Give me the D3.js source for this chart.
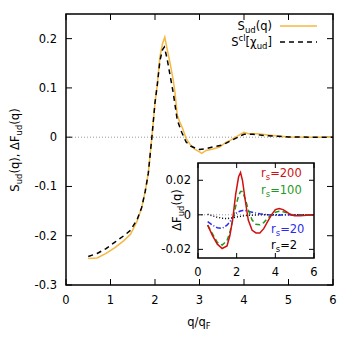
<!DOCTYPE html>
<html>
<head>
<meta charset="utf-8">
<script src="https://cdn.jsdelivr.net/npm/d3@7"></script>
<style>
  body { margin: 0; background: #fff; }
  svg { font-family: "DejaVu Sans", sans-serif; }
</style>
</head>
<body>
<div id="viz"></div>
<script>
// main panel: S_ud(q) and classical estimate
const qMain = [0.5, 0.7, 0.9, 1.1, 1.3, 1.45, 1.6, 1.7, 1.78, 1.85, 1.93, 2.0, 2.05, 2.11, 2.17, 2.22, 2.27, 2.34, 2.41, 2.45, 2.5, 2.56, 2.62, 2.7, 2.8, 2.9, 3.0, 3.05, 3.15, 3.3, 3.45, 3.6, 3.7, 3.85, 4.0, 4.1, 4.3, 4.6, 5.0, 5.5, 6.0];
const sud = [-0.246, -0.245, -0.236, -0.224, -0.21, -0.197, -0.17, -0.143, -0.11, -0.073, 0.0, 0.07, 0.105, 0.163, 0.19, 0.203, 0.18, 0.15, 0.116, 0.09, 0.045, 0.03, 0.018, -0.003, -0.016, -0.025, -0.03, -0.033, -0.027, -0.024, -0.02, -0.01, -0.006, 0.002, 0.01, 0.007, 0.007, 0.004, 0.0005, 0.0, 0.0];
const qCl = [0.5, 0.7, 0.9, 1.1, 1.3, 1.45, 1.6, 1.7, 1.78, 1.85, 1.93, 2.0, 2.05, 2.11, 2.17, 2.21, 2.27, 2.34, 2.41, 2.5, 2.6, 2.7, 2.8, 2.9, 3.0, 3.1, 3.3, 3.5, 3.6, 3.8, 4.0, 4.2, 4.5, 5.0, 5.5, 6.0];
const scl = [-0.242, -0.236, -0.226, -0.213, -0.2, -0.189, -0.167, -0.143, -0.11, -0.073, 0.0, 0.07, 0.105, 0.155, 0.178, 0.183, 0.16, 0.125, 0.09, 0.035, 0.01, -0.01, -0.018, -0.022, -0.025, -0.024, -0.02, -0.016, -0.012, -0.003, 0.006, 0.006, 0.003, 0.0005, 0.0, 0.0];

// inset: Delta F_ud(q) for several r_s
const qInset = [0.5, 0.75, 1.0, 1.25, 1.5, 1.65, 1.8, 1.95, 2.1, 2.2, 2.3, 2.45, 2.6, 2.8, 3.0, 3.2, 3.4, 3.6, 3.8, 4.0, 4.2, 4.4, 4.6, 4.8, 5.0, 5.3, 5.6, 6.0];
const dF200 = [-0.006, -0.012, -0.017, -0.0195, -0.018, -0.012, -0.002, 0.012, 0.022, 0.0245, 0.02, 0.008, -0.003, -0.009, -0.0105, -0.0105, -0.008, -0.004, 0.0, 0.003, 0.0037, 0.003, 0.0015, 0.0, -0.0005, -0.0006, -0.0003, 0.0];
const dF100 = [-0.006, -0.011, -0.016, -0.0175, -0.015, -0.01, -0.003, 0.005, 0.011, 0.0135, 0.0135, 0.009, 0.003, -0.003, -0.0055, -0.0058, -0.0045, -0.002, 0.0, 0.0015, 0.002, 0.0018, 0.0012, 0.0003, -0.0002, -0.0002, 0.0, 0.0];
const dF20 = [-0.004, -0.006, -0.0075, -0.0078, -0.006, -0.004, -0.0015, 0.0008, 0.0018, 0.0022, 0.0025, 0.0025, 0.002, 0.0015, 0.001, 0.0006, 0.0003, 0.0, -0.0002, -0.0003, -0.0002, 0.0, 0.0, 0.0, 0.0, 0.0, 0.0, 0.0];
const dF2 = [0.0003, -0.0006, -0.0014, -0.002, -0.0022, -0.002, -0.0017, -0.0014, -0.0011, -0.0009, -0.0007, -0.0005, -0.0003, -0.0002, -0.0001, 0.0, 0.0, 0.0, 0.0, 0.0, 0.0, 0.0, 0.0, 0.0, 0.0, 0.0, 0.0, 0.0];

const xTicks = [0, 1, 2, 3, 4, 5, 6];
const yTicks = [-0.3, -0.2, -0.1, 0, 0.1, 0.2];
const insetXTicks = [0, 2, 4, 6];
const insetYTicks = [-0.02, 0, 0.02];

const W = 356, H = 345;
const svg = d3.select('#viz').append('svg').attr('width', W).attr('height', H);

const m = { left: 66, right: 333, top: 14, bottom: 285 };
const x = d3.scaleLinear().domain([0, 6]).range([m.left, m.right]);
const y = d3.scaleLinear().domain([-0.3, 0.25]).range([m.bottom, m.top]);

const fmt = (d) => (d === 0 ? '0' : String(d));

// zero line
svg.append('line')
    .attr('x1', x(0)).attr('x2', x(6))
    .attr('y1', y(0)).attr('y2', y(0))
    .attr('stroke', '#999').attr('stroke-width', 1).attr('stroke-dasharray', '1,2');

// ticks (inward, mirrored)
const tk = svg.append('g');
xTicks.forEach((t) => {
    tk.append('line').attr('x1', x(t)).attr('x2', x(t)).attr('y1', m.bottom).attr('y2', m.bottom - 6);
    tk.append('line').attr('x1', x(t)).attr('x2', x(t)).attr('y1', m.top).attr('y2', m.top + 6);
    svg.append('text').attr('x', x(t)).attr('y', 304).attr('text-anchor', 'middle')
        .attr('font-size', 11.5).text(t);
});
yTicks.forEach((t) => {
    tk.append('line').attr('x1', m.left).attr('x2', m.left + 6).attr('y1', y(t)).attr('y2', y(t));
    tk.append('line').attr('x1', m.right).attr('x2', m.right - 6).attr('y1', y(t)).attr('y2', y(t));
    svg.append('text').attr('x', 57).attr('y', y(t) + 4).attr('text-anchor', 'end')
        .attr('font-size', 11.5).text(fmt(t));
});
tk.selectAll('line').attr('stroke', '#000').attr('stroke-width', 1);

const line = (xs, ys, sx, sy) => d3.line().x((d) => sx(d)).y((d, i) => sy(ys[i]))(xs);

svg.append('path').attr('d', line(qMain, sud, x, y))
    .attr('fill', 'none').attr('stroke', '#f5b840').attr('stroke-width', 1.5);
svg.append('path').attr('d', line(qCl, scl, x, y))
    .attr('fill', 'none').attr('stroke', '#000').attr('stroke-width', 1.5)
    .attr('stroke-dasharray', '5,4');

svg.append('rect')
    .attr('x', m.left).attr('y', m.top)
    .attr('width', m.right - m.left).attr('height', m.bottom - m.top)
    .attr('fill', 'none').attr('stroke', '#000').attr('stroke-width', 1.5);

// axis labels
const xl = svg.append('text').attr('x', 199).attr('y', 326).attr('text-anchor', 'middle').attr('font-size', 11.5);
xl.append('tspan').text('q/q');
xl.append('tspan').attr('font-size', 8.5).attr('dy', 3).text('F');

const yl = svg.append('text').attr('transform', 'translate(19,150) rotate(-90)')
    .attr('text-anchor', 'middle').attr('font-size', 11.5);
yl.append('tspan').text('S');
yl.append('tspan').attr('font-size', 8.5).attr('dy', 3).text('ud');
yl.append('tspan').attr('dy', -3).text('(q), ΔF');
yl.append('tspan').attr('font-size', 8.5).attr('dy', 3).text('ud');
yl.append('tspan').attr('dy', -3).text('(q)');

// legend
const lg = svg.append('g').attr('font-size', 11.5);
const l1 = lg.append('text').attr('x', 272).attr('y', 30).attr('text-anchor', 'end');
l1.append('tspan').text('S');
l1.append('tspan').attr('font-size', 8.5).attr('dy', 3).text('ud');
l1.append('tspan').attr('dy', -3).text('(q)');
lg.append('line').attr('x1', 280).attr('x2', 317).attr('y1', 26).attr('y2', 26)
    .attr('stroke', '#f5b840').attr('stroke-width', 1.5);
const l2 = lg.append('text').attr('x', 272).attr('y', 46).attr('text-anchor', 'end');
l2.append('tspan').text('S');
l2.append('tspan').attr('font-size', 8.5).attr('dy', -5).text('cl');
l2.append('tspan').attr('dy', 5).text('[χ');
l2.append('tspan').attr('font-size', 8.5).attr('dy', 3).text('ud');
l2.append('tspan').attr('dy', -3).text(']');
lg.append('line').attr('x1', 280).attr('x2', 317).attr('y1', 42).attr('y2', 42)
    .attr('stroke', '#000').attr('stroke-width', 1.5).attr('stroke-dasharray', '5,4');

// inset
const im = { left: 198, right: 314, top: 163, bottom: 258 };
const xi = d3.scaleLinear().domain([0, 6]).range([im.left, im.right]);
const yi = d3.scaleLinear().domain([-0.025, 0.03]).range([im.bottom, im.top]);

svg.append('rect')
    .attr('x', im.left).attr('y', im.top)
    .attr('width', im.right - im.left).attr('height', im.bottom - im.top)
    .attr('fill', '#fff');

svg.append('line')
    .attr('x1', xi(0)).attr('x2', xi(6))
    .attr('y1', yi(0)).attr('y2', yi(0))
    .attr('stroke', '#999').attr('stroke-width', 1).attr('stroke-dasharray', '1,2');

const itk = svg.append('g');
insetXTicks.forEach((t) => {
    itk.append('line').attr('x1', xi(t)).attr('x2', xi(t)).attr('y1', im.bottom).attr('y2', im.bottom - 5);
    itk.append('line').attr('x1', xi(t)).attr('x2', xi(t)).attr('y1', im.top).attr('y2', im.top + 5);
    svg.append('text').attr('x', xi(t)).attr('y', 276).attr('text-anchor', 'middle')
        .attr('font-size', 11.5).text(t);
});
insetYTicks.forEach((t) => {
    itk.append('line').attr('x1', im.left).attr('x2', im.left + 5).attr('y1', yi(t)).attr('y2', yi(t));
    itk.append('line').attr('x1', im.right).attr('x2', im.right - 5).attr('y1', yi(t)).attr('y2', yi(t));
    svg.append('text').attr('x', 191).attr('y', yi(t) + 4).attr('text-anchor', 'end')
        .attr('font-size', 11.5).text(fmt(t));
});
itk.selectAll('line').attr('stroke', '#000').attr('stroke-width', 1);

const insetSeries = [
    { ys: dF2, color: '#000', dash: '1,2' },
    { ys: dF20, color: '#2b2bee', dash: '5,2,1,2' },
    { ys: dF100, color: '#1f9a1f', dash: '5,3' },
    { ys: dF200, color: '#d01010', dash: null },
];
insetSeries.forEach((s) => {
    svg.append('path').attr('d', line(qInset, s.ys, xi, yi))
        .attr('fill', 'none').attr('stroke', s.color).attr('stroke-width', 1.5)
        .attr('stroke-dasharray', s.dash);
});

svg.append('rect')
    .attr('x', im.left).attr('y', im.top)
    .attr('width', im.right - im.left).attr('height', im.bottom - im.top)
    .attr('fill', 'none').attr('stroke', '#000').attr('stroke-width', 1.5);

const iyl = svg.append('text').attr('transform', 'translate(181,210) rotate(-90)')
    .attr('text-anchor', 'middle').attr('font-size', 11.5);
iyl.append('tspan').text('ΔF');
iyl.append('tspan').attr('font-size', 8.5).attr('dy', 3).text('ud');
iyl.append('tspan').attr('dy', -3).text('(q)');

const rsLabels = [
    { txt: '200', color: '#d01010', x: 261, y: 177 },
    { txt: '100', color: '#1f9a1f', x: 261, y: 194 },
    { txt: '20', color: '#2b2bee', x: 271, y: 233 },
    { txt: '2', color: '#000', x: 271, y: 249 },
];
rsLabels.forEach((r) => {
    const t = svg.append('text').attr('x', r.x).attr('y', r.y).attr('fill', r.color).attr('font-size', 11.5);
    t.append('tspan').text('r');
    t.append('tspan').attr('font-size', 8.5).attr('dy', 3).text('s');
    t.append('tspan').attr('dy', -3).text('=' + r.txt);
});
</script>
</body>
</html>
